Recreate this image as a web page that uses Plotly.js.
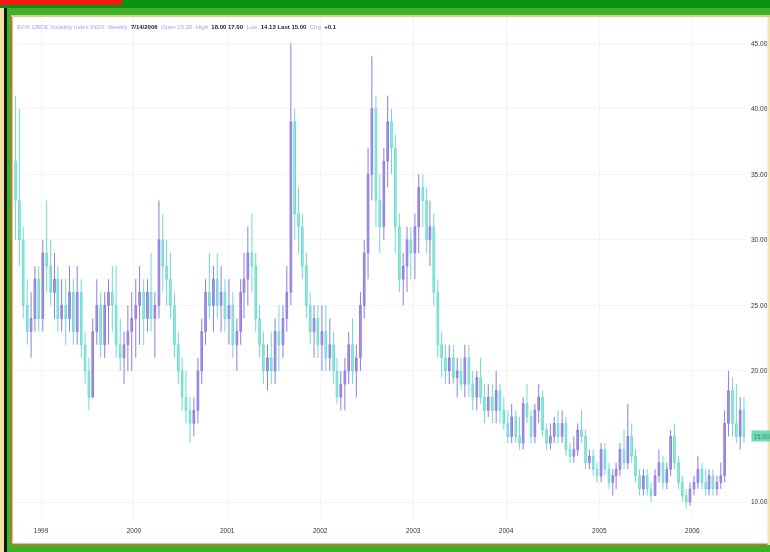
<!DOCTYPE html>
<html>
<head>
<meta charset="utf-8">
<script src="https://cdn.plot.ly/plotly-3.0.1.min.js"></script>
<style>
html,body{margin:0;padding:0;background:#fff;}
#chart{width:770px;height:552px;filter:blur(0.45px);}
</style>
</head>
<body>
<div id="chart"></div>
<script>
// Semi-monthly candles, CBOE Volatility Index
const dates = [
"1998-09-23","1998-10-08","1998-10-23","1998-11-08","1998-11-23","1998-12-08","1998-12-23",
"1999-01-08","1999-01-23","1999-02-08","1999-02-23","1999-03-08","1999-03-23","1999-04-08","1999-04-23","1999-05-08","1999-05-23","1999-06-08","1999-06-23","1999-07-08","1999-07-23","1999-08-08","1999-08-23","1999-09-08","1999-09-23","1999-10-08","1999-10-23","1999-11-08","1999-11-23","1999-12-08","1999-12-23",
"2000-01-08","2000-01-23","2000-02-08","2000-02-23","2000-03-08","2000-03-23","2000-04-08","2000-04-23","2000-05-08","2000-05-23","2000-06-08","2000-06-23","2000-07-08","2000-07-23","2000-08-08","2000-08-23","2000-09-08","2000-09-23","2000-10-08","2000-10-23","2000-11-08","2000-11-23","2000-12-08","2000-12-23",
"2001-01-08","2001-01-23","2001-02-08","2001-02-23","2001-03-08","2001-03-23","2001-04-08","2001-04-23","2001-05-08","2001-05-23","2001-06-08","2001-06-23","2001-07-08","2001-07-23","2001-08-08","2001-08-23","2001-09-08","2001-09-23","2001-10-08","2001-10-23","2001-11-08","2001-11-23","2001-12-08","2001-12-23",
"2002-01-08","2002-01-23","2002-02-08","2002-02-23","2002-03-08","2002-03-23","2002-04-08","2002-04-23","2002-05-08","2002-05-23","2002-06-08","2002-06-23","2002-07-08","2002-07-23","2002-08-08","2002-08-23","2002-09-08","2002-09-23","2002-10-08","2002-10-23","2002-11-08","2002-11-23","2002-12-08","2002-12-23",
"2003-01-08","2003-01-23","2003-02-08","2003-02-23","2003-03-08","2003-03-23","2003-04-08","2003-04-23","2003-05-08","2003-05-23","2003-06-08","2003-06-23","2003-07-08","2003-07-23","2003-08-08","2003-08-23","2003-09-08","2003-09-23","2003-10-08","2003-10-23","2003-11-08","2003-11-23","2003-12-08","2003-12-23",
"2004-01-08","2004-01-23","2004-02-08","2004-02-23","2004-03-08","2004-03-23","2004-04-08","2004-04-23","2004-05-08","2004-05-23","2004-06-08","2004-06-23","2004-07-08","2004-07-23","2004-08-08","2004-08-23","2004-09-08","2004-09-23","2004-10-08","2004-10-23","2004-11-08","2004-11-23","2004-12-08","2004-12-23",
"2005-01-08","2005-01-23","2005-02-08","2005-02-23","2005-03-08","2005-03-23","2005-04-08","2005-04-23","2005-05-08","2005-05-23","2005-06-08","2005-06-23","2005-07-08","2005-07-23","2005-08-08","2005-08-23","2005-09-08","2005-09-23","2005-10-08","2005-10-23","2005-11-08","2005-11-23","2005-12-08","2005-12-23",
"2006-01-08","2006-01-23","2006-02-08","2006-02-23","2006-03-08","2006-03-23","2006-04-08","2006-04-23","2006-05-08","2006-05-23","2006-06-08","2006-06-23","2006-07-08","2006-07-23"
];
const openV = [
36,33,30,25,23,24,27,
24,29,28,26,27,24,25,24,26,23,26,22,20,18,23,25,22,25,26,25,22,21,22,23,
24,25,26,24,26,24,25,30,28,27,25,22,20,18,17,16,17,20,23,26,25,27,25,26,
24,25,22,23,26,27,29,28,24,22,20,21,20,23,22,24,26,39,32,31,28,25,23,24,
22,23,21,22,20,18,19,20,22,20,21,25,29,35,40,33,31,36,39,37,31,27,28,30,
29,31,34,33,30,31,26,22,21,20,21,19.5,20,19,21,19,18,19.5,18,17,18,17,18.5,17,
16,15,16.5,15,14.5,17.5,16.5,15,17,18,15.5,14.5,15,16,15,16,14,13.5,14,15.5,15,13,13.5,12.5,
12,14,12.5,11.5,12,12.5,14,13,15,13.5,12,11,12,11,10.5,12,13,11.5,12.5,15,13,11.5,10.5,10,
11,11.5,12.5,11.5,11,12,11,11.5,12,16,18.5,16,15,17
];
const highV = [
41,40,31,27,26,28,28,
30,33,30,29,28,27,27,28,27,28,27,23,21,24,27,26,26,27,28,28,24,23,25,26,
27,28,27,27,29,26,33,32,30,29,26,23,21,20,18,18,21,24,27,29,28,29,28,27,
27,26,24,27,29,31,32,29,25,23,22,23,24,25,25,28,45,40,34,32,29,26,25,25,
25,25,24,23,21,20,21,23,24,22,26,30,37,44,41,35,37,41,40,38,32,29,31,31,
32,35,35,34,33,32,27,23,22,22,22,21,21,22,22,20,20,21,19,19,19,20,19,18,
17,17.5,17,16.5,18,19,17,17.5,19,18.5,16,16,16.5,17,17,16.5,14.5,15,16,17,15.5,14,14,13,
14.5,14.5,13,12.5,13,14.5,15.5,17.5,16,14,12.5,12.5,12.5,11.5,12.5,14,13.5,13,15.5,16,13.5,12,11,11.5,
12,13.5,13,12.5,12.5,12.5,12,13,17,20,19.5,19,18,18
];
const lowV = [
30,28,24,22,21,23,23,
23,26,25,24,23,23,22,23,22,22,21,19,17,18,22,21,21,22,23,21,20,19,20,20,
21,22,22,23,23,21,24,26,25,24,21,19,17,16,14.5,15,16,19,22,24,23,24,23,23,
22,21,20,22,24,25,26,23,21,19,18.5,19,19,20,21,23,25,30,29,27,24,22,21,21,
20,20,20,19,17.5,17,17,19,19,18,20,24,27,33,31,29,30,34,35,29,26,25,26,27,
27,29,31,29,28,25,21,19.5,19,19,19,18,18.5,18,18,17,17,17.5,16,16.5,16,16,16,15.5,
14.5,14.5,14.5,14,14,16,14.5,14.5,16,15,14,14,14.5,14.5,14.5,13.5,13,13,13.5,14.5,12.5,12.5,12,11.5,
11.5,12,11,10.5,11,12,12.5,12.5,13,11.5,10.5,10.5,10.5,10,10.5,11.5,11,11,12,12.5,11,10,9.5,9.7,
10.5,11,11,10.5,10.5,10.5,10.5,11,11.5,15,15,14.5,14,14.5
];
const closeV = [
33,30,25,23,24,27,24,
29,28,26,27,24,25,24,26,23,26,22,20,18,23,25,22,25,26,25,22,21,22,23,24,
25,26,24,26,24,25,30,28,27,25,22,20,18,17,16,17,20,23,26,25,27,25,26,24,
25,22,23,26,27,29,28,24,22,20,21,20,23,22,24,26,39,32,31,28,25,23,24,22,
23,21,22,20,18,19,20,22,20,21,25,29,35,40,33,31,36,39,37,31,27,28,30,29,
31,34,33,30,31,26,22,21,20,21,19.5,20,19,21,19,18,19.5,18,17,18,17,18.5,17,16,
15,16.5,15,14.5,17.5,16.5,15,17,18,15.5,14.5,15,16,15,16,14,13.5,14,15.5,15,13,13.5,12.5,12,
14,12.5,11.5,12,12.5,14,13,15,13.5,12,11,12,11,10.5,12,13,11.5,12.5,15,13,11.5,10.5,10,11,
11.5,12.5,11.5,11,12,11,11.5,12,16,18.5,16,15,17,15
];
const yearTicks = ["1999-01-01","2000-01-01","2001-01-01","2002-01-01","2003-01-01","2004-01-01","2005-01-01","2006-01-01"];
const yearLabels = ["1999","2000","2001","2002","2003","2004","2005","2006"];
// the 15.00 level is shown by the highlighted last-price label instead
const priceTicks = [10,20,25,30,35,40,45];
const priceLabels = ["10.00","20.00","25.00","30.00","35.00","40.00","45.00"];
const lastClose = closeV[closeV.length-1];

// layout geometry (pixels)
const W = 770, H = 552;
const M = {l:13, r:25, t:17, b:32};
const PW = W - M.l - M.r, PH = H - M.t - M.b;
const px = x => (x - M.l) / PW;
const py = y => (H - M.b - y) / PH;
function rect(x0,y0,x1,y1,color){
  return {type:'rect', xref:'paper', yref:'paper', x0:px(x0), x1:px(x1), y0:py(y1), y1:py(y0),
          fillcolor:color, line:{width:0}, layer:'above'};
}

const shapes = [
  rect(0,5,4,552,'#f2e2a2'),
  rect(4,7,7,552,'#141414'),
  rect(0,0,770,8,'#0b8f10'),
  rect(7,8,770,15,'#3cb324'),
  rect(11,15,770,17,'#d9c98e'),
  rect(0,0,122,5,'#ff1414'),
  rect(7,8,11,552,'#3cb324'),
  rect(11,17,12.5,545,'#e8653c'),
  rect(11,543.5,768,545,'#e8653c'),
  rect(7,545,770,552,'#3cb324'),
  rect(767.5,17,770,545,'#f0e4b8')
];

const purple = '#b49cf0';
const legendText =
  '<span style="color:'+purple+'">$VIX CBOE Volatility Index INDX  Weekly  </span>' +
  '<b>7/14/2006</b>' +
  '<span style="color:'+purple+'">  Open 15.26  High  </span>' +
  '<b>18.00 17.00</b>' +
  '<span style="color:'+purple+'">  Low  </span>' +
  '<b>14.13 Last 15.00</b>' +
  '<span style="color:'+purple+'">  Chg  </span>' +
  '<b>+0.1</b>';

const trace = {
  type:'candlestick',
  x: dates, open: openV, high: highV, low: lowV, close: closeV,
  increasing:{line:{color:'#8e7ce0', width:1}, fillcolor:'#a896ec'},
  decreasing:{line:{color:'#6edccc', width:1}, fillcolor:'#96eee2'},
  whiskerwidth:0,
  hoverinfo:'skip',
  showlegend:false
};

const layout = {
  width:W, height:H,
  margin:M,
  paper_bgcolor:'#ffffff',
  plot_bgcolor:'#ffffff',
  showlegend:false,
  font:{family:'Liberation Sans, Arial, sans-serif', size:7, color:'#333'},
  xaxis:{
    type:'date',
    range:['1998-09-13','2006-07-27'],
    rangeslider:{visible:false},
    tickmode:'array', tickvals:yearTicks, ticktext:yearLabels,
    tickfont:{size:6.5, color:'#333'},
    ticklabelstandoff:5,
    showgrid:true, gridcolor:'#f5f5f5', gridwidth:1,
    zeroline:false, showline:false, ticks:''
  },
  yaxis:{
    side:'right',
    range:[8.63, 47.0],
    tickmode:'array', tickvals:priceTicks, ticktext:priceLabels,
    tickfont:{size:6.5, color:'#333'},
    ticklabelstandoff:5,
    showgrid:true, gridcolor:'#f5f5f5', gridwidth:1,
    zeroline:false, showline:false, ticks:''
  },
  shapes: shapes,
  annotations:[
    {xref:'paper', yref:'paper', x:px(15), y:py(27), xanchor:'left', yanchor:'middle',
     text:legendText, showarrow:false, font:{size:6, color:'#222', family:'Liberation Sans, Arial, sans-serif'}},
    {xref:'paper', yref:'y', x:px(751), y:lastClose, xanchor:'left', yanchor:'middle',
     text:lastClose.toFixed(2), showarrow:false, bgcolor:'#74dab2', borderpad:1.5,
     font:{size:6.5, color:'#3a8f78'}}
  ]
};

Plotly.newPlot('chart', [trace], layout, {displayModeBar:false, staticPlot:true});
</script>
</body>
</html>
